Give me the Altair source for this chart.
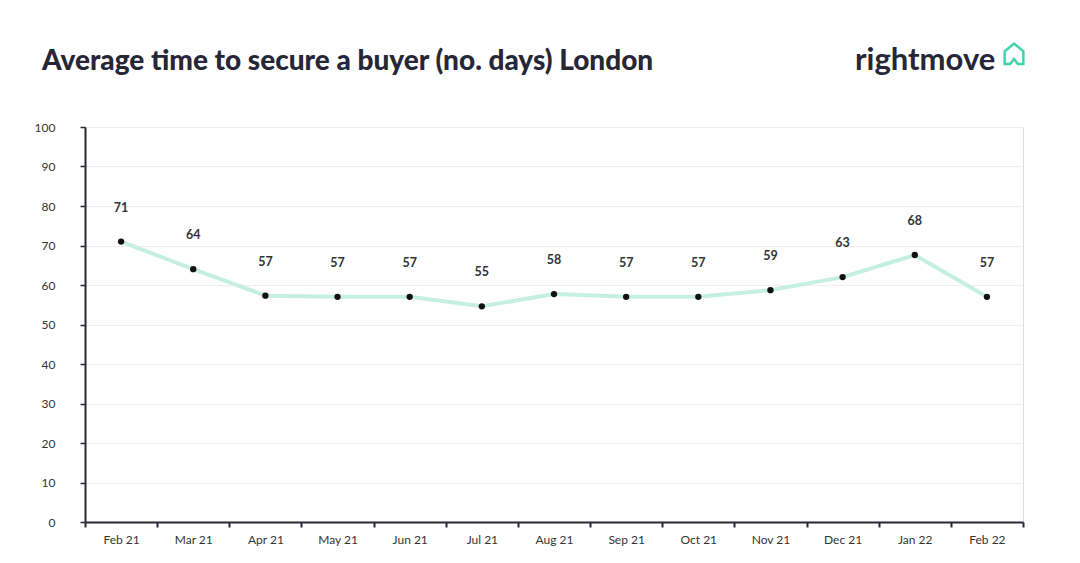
import altair as alt
import pandas as pd

months = ["Feb 21", "Mar 21", "Apr 21", "May 21", "Jun 21", "Jul 21", "Aug 21",
          "Sep 21", "Oct 21", "Nov 21", "Dec 21", "Jan 22", "Feb 22"]
values = [71, 64, 57.3, 57, 57, 54.6, 57.7, 57, 57, 58.7, 62, 67.6, 57]
labels = ["71", "64", "57", "57", "57", "55", "58", "57", "57", "59", "63", "68", "57"]
y_ticks = [0, 10, 20, 30, 40, 50, 60, 70, 80, 90, 100]

title_text = "Average time to secure a buyer (no. days) London"
logo_text = "rightmove"

df = pd.DataFrame({"month": months, "value": values, "label": labels})

DARK = "#262637"
FONT = "Lato"

x_enc = alt.X("month:N", sort=months, title=None,
              scale=alt.Scale(paddingInner=0, paddingOuter=0),
              axis=alt.Axis(labelAngle=0, tickBand="extent", domainColor=DARK,
                            domainWidth=2, tickColor=DARK, tickWidth=2, tickSize=5,
                            labelFont=FONT, labelFontSize=12, labelColor="#333333",
                            labelPadding=7, grid=False))
y_enc = alt.Y("value:Q", title=None,
              scale=alt.Scale(domain=[0, 100], nice=False, zero=True),
              axis=alt.Axis(values=y_ticks, domainColor=DARK, domainWidth=2,
                            tickColor=DARK, tickWidth=1.5, tickSize=5,
                            labelFont=FONT, labelFontSize=12, labelColor="#333333",
                            labelPadding=25, grid=True, gridColor="#eeeeee",
                            gridWidth=1))

base = alt.Chart(df)
line = base.mark_line(color="#c6efe3", strokeWidth=4).encode(x=x_enc, y=y_enc)
pts = base.mark_circle(size=40, color="#111111", opacity=1).encode(x=x_enc, y=y_enc)
txt = base.mark_text(dy=-34, font=FONT, fontSize=12.5, fontWeight="bold",
                     color="#333333").encode(x=x_enc, y=y_enc, text="label:N")

tdf = pd.DataFrame({"t": [title_text]})
title = alt.Chart(tdf).mark_text(align="left", baseline="alphabetic", font=FONT,
                                 fontSize=28, fontWeight=900, color=DARK).encode(
    x=alt.value(-43), y=alt.value(-57), text="t:N")

ldf = pd.DataFrame({"t": [logo_text]})
logo = alt.Chart(ldf).mark_text(align="left", baseline="alphabetic", font=FONT,
                                fontSize=31, fontWeight="bold", color=DARK).encode(
    x=alt.value(770), y=alt.value(-57), text="t:N")

house_path = "M -0.85 0.9 L -0.85 -0.25 L 0 -0.95 L 0.85 -0.25 L 0.85 0.9 L 0.35 0.9 L 0 0.45 L -0.35 0.9 Z"
house = alt.Chart(ldf).mark_point(shape=house_path, filled=False, strokeWidth=2.5,
                                  color="#3fd3a9", opacity=1, size=484).encode(
    x=alt.value(929), y=alt.value(-73))

chart = alt.layer(line, pts, txt, title, logo, house).properties(
    width=938, height=395,
    autosize=alt.AutoSizeParams(type="none"),
    padding={"left": 77, "top": 119, "right": 40, "bottom": 30},
).configure_view(stroke=None).configure(background="white")

chart.save("out.html", embed_options={"renderer": "svg", "actions": False})
